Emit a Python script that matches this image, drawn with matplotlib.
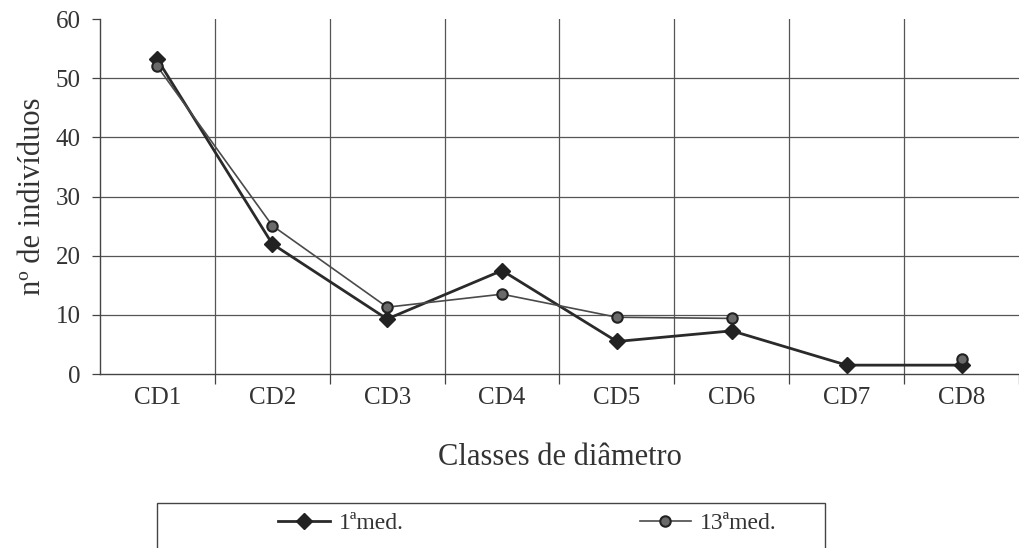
import numpy as np
import matplotlib
matplotlib.use('Agg')
import matplotlib.pyplot as plt
from matplotlib.patches import Rectangle

plt.rcParams['font.family'] = ['Liberation Serif', 'DejaVu Serif']

# dados
classes = ['CD1', 'CD2', 'CD3', 'CD4', 'CD5', 'CD6', 'CD7', 'CD8']
med1 = [53.2, 22.0, 9.3, 17.5, 5.5, 7.3, 1.5, 1.5]
med13 = [52.0, 25.1, 11.3, 13.5, 9.6, 9.4, np.nan, 2.5]
yticks = [0, 10, 20, 30, 40, 50, 60]

cor = '#333333'

fig = plt.figure(figsize=(10.2, 5.48), dpi=100)
ax = fig.add_axes([0.098, 0.3175, 0.901, 0.6475])

x = np.arange(len(classes))

# grade
for v in yticks[1:-1]:
    ax.axhline(v, color='#555555', lw=0.9, zorder=1)
for b in np.arange(0.5, len(classes) - 1, 1.0):
    ax.axvline(b, color='#555555', lw=0.9, zorder=1)

l1, = ax.plot(x, med1, color='#2a2a2a', lw=2.0, marker='D', markersize=8,
              markerfacecolor='#222222', markeredgecolor='#222222', zorder=3,
              label='1ªmed.')
l2, = ax.plot(x, med13, color='#4a4a4a', lw=1.2, marker='o', markersize=7.5,
              markerfacecolor='#6a6a6a', markeredgecolor='#222222', markeredgewidth=1.5,
              zorder=4, label='13ªmed.')

ax.set_xlim(-0.5, len(classes) - 0.5)
ax.set_ylim(0, 60)
ax.set_yticks(yticks)
ax.set_xticks(x)
ax.set_xticklabels(classes)
ax.set_xticks(np.arange(0.5, len(classes), 1.0), minor=True)

ax.tick_params(axis='x', which='major', length=0, pad=9, labelsize=18, labelcolor=cor)
ax.tick_params(axis='x', which='minor', length=7, width=0.9, color='#444444', direction='out')
ax.tick_params(axis='y', length=6, width=0.9, color='#444444', pad=8, labelsize=18, labelcolor=cor)

for s in ['top', 'right']:
    ax.spines[s].set_visible(False)
for s in ['left', 'bottom']:
    ax.spines[s].set_color('#444444')
    ax.spines[s].set_linewidth(1.0)

ax.set_xlabel('Classes de diâmetro', fontsize=22, color=cor, labelpad=25)
ax.set_ylabel('nº de indivíduos', fontsize=22, color=cor, labelpad=6)

# legenda
fig.patches.append(Rectangle((157 / 1020, -0.05), (825 - 157) / 1020, 0.05 + 45 / 548,
                             transform=fig.transFigure, fill=False,
                             edgecolor='#444444', lw=1.0))
fig.legend(handles=[l1, l2], loc='center', bbox_to_anchor=(0.517, 0.045),
           ncol=2, frameon=False, fontsize=17, handlelength=2.2,
           columnspacing=10.0, handletextpad=0.35, labelcolor=cor)

fig.savefig('out.png', dpi=100)
